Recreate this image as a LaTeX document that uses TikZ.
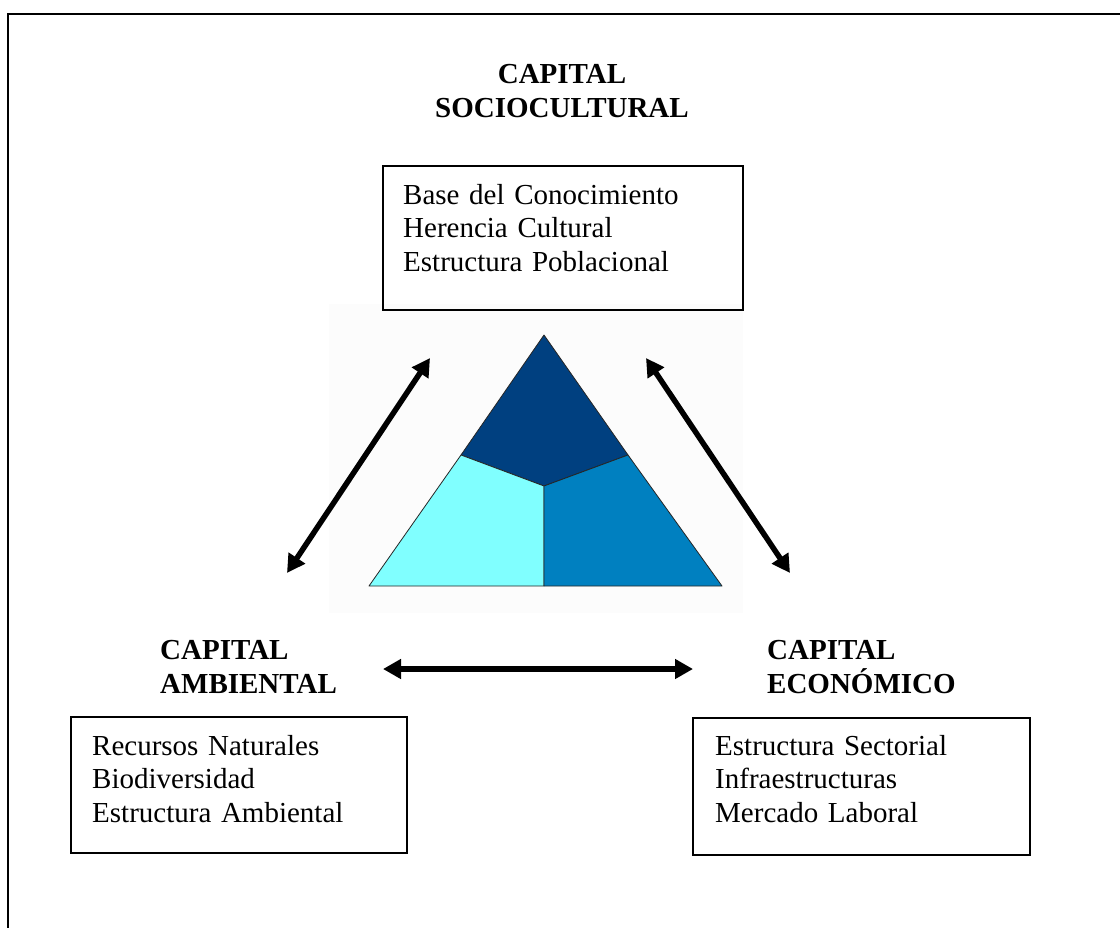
\documentclass[tikz,border=0pt]{standalone}
\usepackage{fontspec}
\setmainfont{Liberation Serif}
\usetikzlibrary{arrows.meta}
\definecolor{topblue}{RGB}{0,64,128}
\definecolor{leftcyan}{RGB}{128,255,255}
\definecolor{rightblue}{RGB}{0,128,192}
\definecolor{imgbg}{RGB}{252,252,252}
\begin{document}
\begin{tikzpicture}[x=1bp,y=-1bp,
  listbox/.style={draw=black, line width=1.8bp, inner sep=0pt},
  itemtext/.style={inner sep=0pt, text width=330bp, align=left, font=\fontsize{29bp}{33.5bp}\selectfont},
  titletext/.style={inner sep=0pt, font=\fontsize{29bp}{34bp}\selectfont\bfseries},
  biarrow/.style={line width=5.5bp, {Triangle[length=18bp,width=19bp]}-{Triangle[length=18bp,width=19bp]}},
  framerule/.style={line width=1.8bp, draw=black},
  wedge/.style={draw=black!85, line width=0.8bp, line join=round}]
\useasboundingbox (0,0) rectangle (1120,928);
% picture background
\fill[imgbg] (329,304) rectangle (743,613);
% outer frame (top and left edges)
\coordinate (frameTR) at (1120,14);
\coordinate (frameTL) at (8,14);
\coordinate (frameBL) at (8,928);
\draw[framerule] (frameTR) -- (frameTL) -- (frameBL);
% titles
\node[titletext, text width=300bp, align=center, anchor=base] (soctitle) at (562,83) {CAPITAL\\SOCIOCULTURAL};
\node[titletext, text width=250bp, align=left, anchor=base west] (ambtitle) at (160,659) {CAPITAL\\AMBIENTAL};
\node[titletext, text width=250bp, align=left, anchor=base west] (ecotitle) at (767,659) {CAPITAL\\ECONÓMICO};
% boxes
\node[listbox, minimum width=360bp, minimum height=144bp] (socbox) at (563,238) {};
\node[listbox, minimum width=336bp, minimum height=136bp] (ambbox) at (239,785) {};
\node[listbox, minimum width=337bp, minimum height=137bp] (ecobox) at (861.5,786.5) {};
\node[itemtext, anchor=base west] (soctext) at (403,204) {Base del Conocimiento\\Herencia Cultural\\Estructura Poblacional};
\node[itemtext, anchor=base west] (ambtext) at (92,755) {Recursos Naturales\\Biodiversidad\\Estructura Ambiental};
\node[itemtext, anchor=base west] (ecotext) at (715,755) {Estructura Sectorial\\Infraestructuras\\Mercado Laboral};
% triangle
\coordinate (apex) at (544,335);
\coordinate (bl) at (369,586);
\coordinate (br) at (722,586);
\coordinate (mid) at (544,486);
\coordinate (ml) at (461,455);
\coordinate (mr) at (628,455);
\coordinate (mb) at (544,586);
\filldraw[wedge, fill=topblue] (apex) -- (mr) -- (mid) -- (ml) -- cycle;
\filldraw[wedge, fill=leftcyan] (ml) -- (mid) -- (mb) -- (bl) -- cycle;
\filldraw[wedge, fill=rightblue] (mr) -- (br) -- (mb) -- (mid) -- cycle;
% arrows
\coordinate (la) at (287,573);
\coordinate (lb) at (430,358);
\coordinate (ra) at (646,358);
\coordinate (rb) at (790,573);
\coordinate (ha) at (383,669);
\coordinate (hb) at (693,669);
\draw[biarrow] (la) -- (lb);
\draw[biarrow] (ra) -- (rb);
\draw[biarrow] (ha) -- (hb);
\end{tikzpicture}
\end{document}
